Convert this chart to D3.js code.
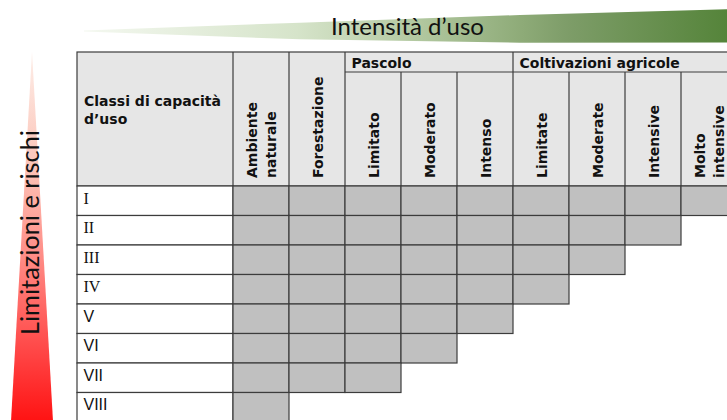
<!DOCTYPE html>
<html>
<head>
<meta charset="utf-8">
<script src="https://cdn.jsdelivr.net/npm/d3@7"></script>
<style>
  html, body { margin: 0; padding: 0; background: #fff; }
  svg { display: block; }
</style>
</head>
<body>
<svg id="chart" width="727" height="420"></svg>
<script>
// ---------------- data ----------------
const classes = ["I", "II", "III", "IV", "V", "VI", "VII", "VIII"];
const compatibleUses = [9, 8, 7, 6, 5, 4, 3, 1];   // number of shaded use columns per class
const landUses = ["Ambiente naturale", "Forestazione", "Limitato", "Moderato", "Intenso",
                  "Limitate", "Moderate", "Intensive", "Molto intensive"];
const landUseLines = [["Ambiente", "naturale"], ["Forestazione"], ["Limitato"], ["Moderato"], ["Intenso"],
                      ["Limitate"], ["Moderate"], ["Intensive"], ["Molto", "intensive"]];
const groupNames = ["Pascolo", "Coltivazioni agricole"];
const groupFirst = ["Limitato", "Limitate"];
const groupLast = ["Intenso", "Molto intensive"];
const serifClasses = ["I", "II", "III", "IV"];
const rowHeaderLines = ["Classi di capacità", "d’uso"];
const xTitle = "Intensità d’uso";
const yTitle = "Limitazioni e rischi";

// ---------------- layout ----------------
const svg = d3.select("#chart");
const tableLeft = 77, labelRight = 233, tableRight = 737;
const tableTop = 52, groupLineY = 72, headerBottom = 186, tableBottom = 422;
const lineColor = "#3c3c3c";
const headFont = "'DejaVu Sans', Verdana, sans-serif";

const x = d3.scaleBand().domain(landUses).range([labelRight, tableRight]).padding(0);
const y = d3.scaleBand().domain(classes).range([headerBottom, tableBottom]).padding(0);

const defs = svg.append("defs");

// ---------- green wedge (Intensità d'uso) ----------
const gGrad = defs.append("linearGradient").attr("id", "gGrad")
  .attr("gradientUnits", "userSpaceOnUse").attr("x1", 84).attr("x2", 727).attr("y1", 0).attr("y2", 0);
[[0, "#f4f8f0"], [0.33, "#d6e4ca"], [0.52, "#b2c8a0"], [0.68, "#8eab78"], [0.75, "#7e9d69"], [1, "#55843a"]]
  .forEach(([o, c]) => gGrad.append("stop").attr("offset", o).attr("stop-color", c));
const gTop = [[84, 30.5], [300, 22.7], [520, 15], [727, 9.3]];
const gBot = [[727, 42.5], [520, 42.7], [300, 39.3], [84, 31.5]];
svg.append("path")
  .attr("d", d3.line().curve(d3.curveLinearClosed)(gTop.concat(gBot)))
  .attr("fill", "url(#gGrad)");

const xt = svg.append("text").text(xTitle)
  .attr("font-family", "Lato, 'Open Sans', sans-serif").attr("font-size", 24)
  .attr("fill", "#111").attr("x", 331).attr("y", 35);
{
  const w = xt.node().getComputedTextLength();
  xt.attr("font-size", 24 * 153 / w);
}

// ---------- red wedge (Limitazioni e rischi) ----------
const rGrad = defs.append("linearGradient").attr("id", "rGrad")
  .attr("gradientUnits", "userSpaceOnUse").attr("x1", 0).attr("x2", 0).attr("y1", 52).attr("y2", 430);
[[0, "#fdeee8"], [0.3, "#fcc4b8"], [0.55, "#ff8a84"], [0.8, "#ff4444"], [1, "#ff0c0c"]]
  .forEach(([o, c]) => rGrad.append("stop").attr("offset", o).attr("stop-color", c));
svg.append("path")
  .attr("d", d3.line().curve(d3.curveLinearClosed)([[32, 52], [53.5, 430], [10.5, 430]]))
  .attr("fill", "url(#rGrad)");

const yt = svg.append("text").text(yTitle)
  .attr("font-family", "Lato, 'Open Sans', sans-serif").attr("font-size", 24)
  .attr("fill", "#111").attr("transform", "translate(38.5,335) rotate(-90)");
{
  const w = yt.node().getComputedTextLength();
  yt.attr("font-size", 24 * 205 / w);
}

// ---------- table header ----------
svg.append("rect")
  .attr("x", tableLeft).attr("y", tableTop)
  .attr("width", tableRight - tableLeft).attr("height", headerBottom - tableTop)
  .attr("fill", "#e6e6e6").attr("stroke", lineColor).attr("stroke-width", 1.2);

// row-header title
svg.append("text")
  .attr("font-family", headFont).attr("font-weight", "bold").attr("font-size", 14).attr("fill", "#111")
  .selectAll("tspan").data(rowHeaderLines).join("tspan")
  .attr("x", tableLeft + 7).attr("y", (d, i) => 105.5 + i * 18).text(d => d);

// group lines and labels
const groupsData = groupNames.map((n, i) => ({
  name: n, x0: x(groupFirst[i]), x1: x(groupLast[i]) + x.bandwidth()
}));
svg.append("g").selectAll("line").data(groupsData).join("line")
  .attr("x1", d => d.x0).attr("x2", d => d.x1).attr("y1", groupLineY).attr("y2", groupLineY)
  .attr("stroke", lineColor).attr("stroke-width", 1.2);
svg.append("g").selectAll("text").data(groupsData).join("text")
  .attr("x", d => d.x0 + 6.5).attr("y", 68)
  .attr("font-family", headFont).attr("font-weight", "bold").attr("font-size", 14).attr("fill", "#111")
  .text(d => d.name);

// vertical column boundaries in header
const boundaries = landUses.map(u => {
  const inGroup = groupsData.some(g => x(u) > g.x0 + 1 && x(u) < g.x1 - 1);
  return { xv: x(u), top: inGroup ? groupLineY : tableTop };
});
boundaries.push({ xv: tableRight, top: tableTop });
svg.append("g").selectAll("line").data(boundaries).join("line")
  .attr("x1", d => d.xv).attr("x2", d => d.xv).attr("y1", d => d.top).attr("y2", headerBottom)
  .attr("stroke", lineColor).attr("stroke-width", 1.2);

// rotated column labels
const colLabels = svg.append("g").selectAll("g").data(landUses).join("g")
  .attr("transform", (d) => `translate(${x(d) + x.bandwidth() / 2},178) rotate(-90)`);
colLabels.each(function (d, i) {
  const lines = landUseLines[i];
  const n = lines.length;
  d3.select(this).selectAll("text").data(lines).join("text")
    .attr("x", 0)
    .attr("y", (l, j) => 5.5 + (j - (n - 1) / 2) * 18.5)
    .attr("font-family", headFont).attr("font-weight", "bold").attr("font-size", 14).attr("fill", "#111")
    .text(l => l);
});

// ---------- table body ----------
const rows = svg.append("g").selectAll("g").data(classes).join("g");
rows.append("rect")
  .attr("x", tableLeft).attr("y", d => y(d))
  .attr("width", labelRight - tableLeft).attr("height", y.bandwidth())
  .attr("fill", "#fff").attr("stroke", lineColor).attr("stroke-width", 1.2);

const cells = [];
classes.forEach((c, r) => {
  landUses.slice(0, compatibleUses[r]).forEach(u => cells.push({ c, u }));
});
svg.append("g").selectAll("rect").data(cells).join("rect")
  .attr("x", d => x(d.u)).attr("y", d => y(d.c))
  .attr("width", x.bandwidth()).attr("height", y.bandwidth())
  .attr("fill", "#c0c0c0").attr("stroke", lineColor).attr("stroke-width", 1.2);

rows.append("text")
  .attr("x", tableLeft + 6.5).attr("y", d => y(d) + 17.5)
  .attr("font-family", d => serifClasses.includes(d) ? "'Liberation Serif', 'Times New Roman', serif" : "'Liberation Sans', Arial, sans-serif")
  .attr("font-size", 16).attr("fill", "#111")
  .text(d => d);
</script>
</body>
</html>
